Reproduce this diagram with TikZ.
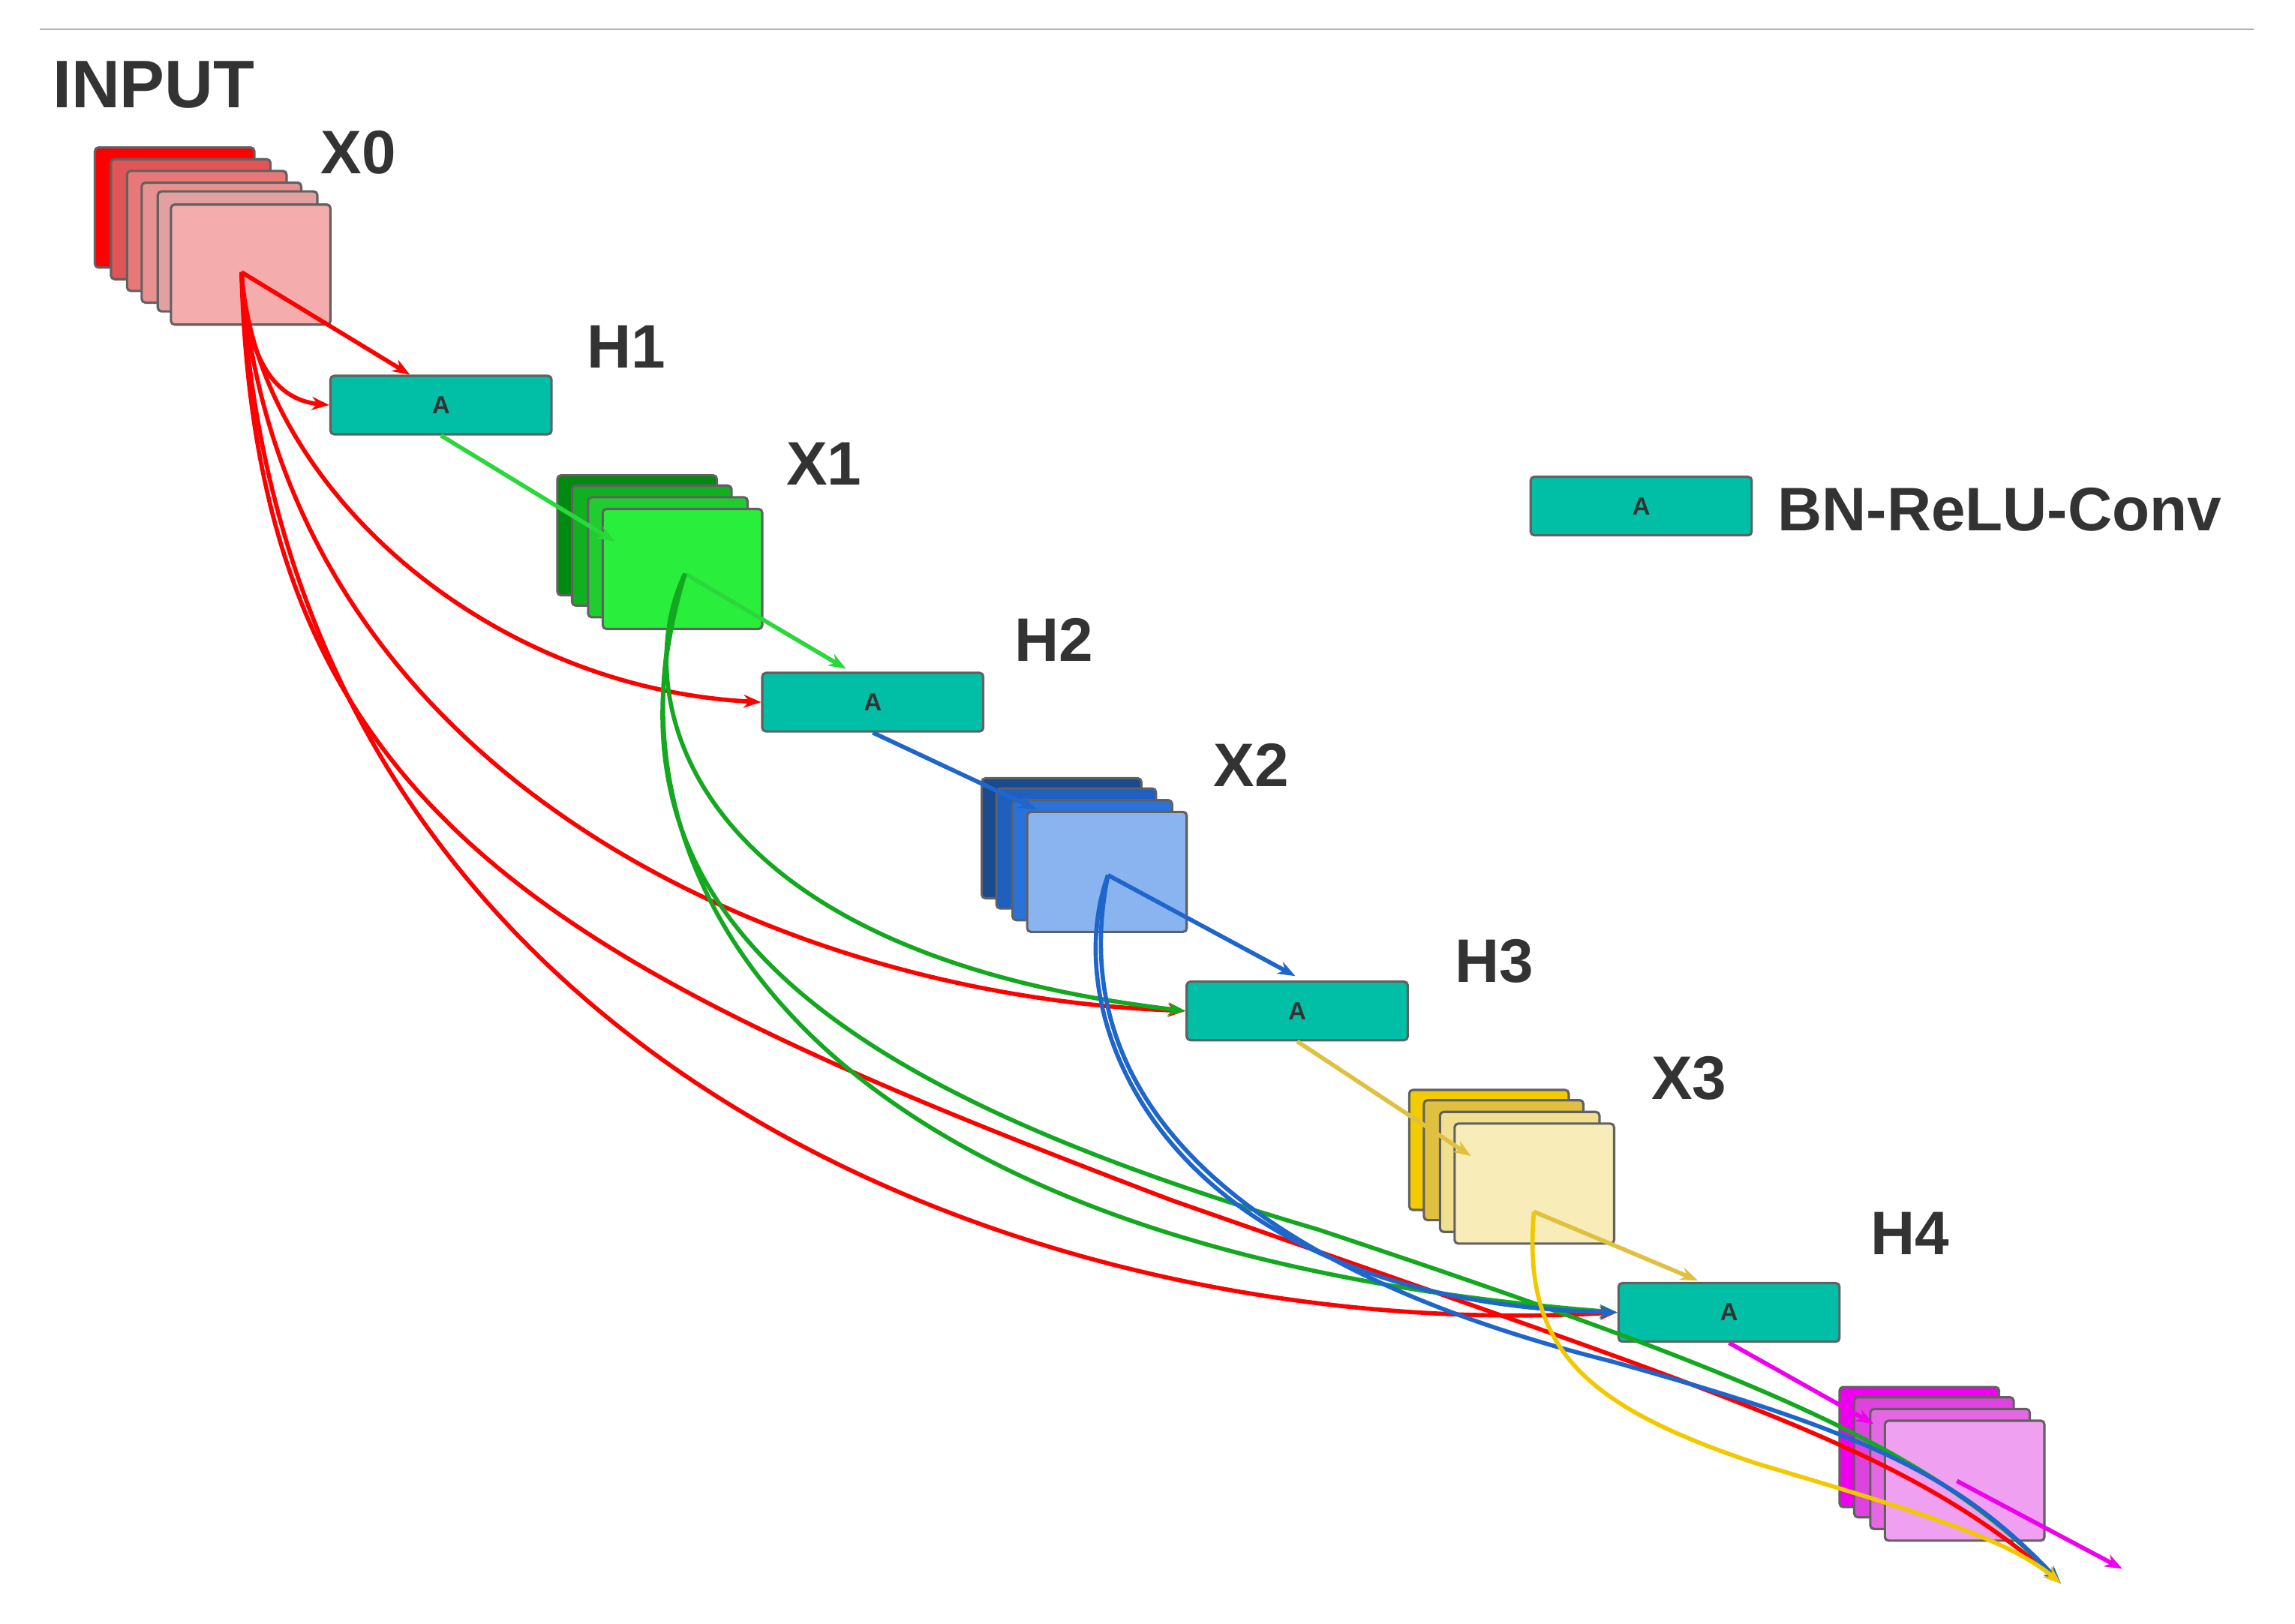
\documentclass[tikz,border=0pt]{standalone}
\usepackage{fontspec}
\setmainfont{Liberation Sans}
\usetikzlibrary{arrows.meta}
\begin{document}
\begin{tikzpicture}[x=1pt,y=-1pt,
 lay/.style={draw=black!62,line width=1.6pt,rounded corners=2.5pt,minimum width=109pt,minimum height=82pt,anchor=north west,inner sep=0pt},
 abox/.style={draw=black!62,line width=1.6pt,rounded corners=2.5pt,fill=teal0,minimum width=151pt,minimum height=40pt,anchor=north west,font=\bfseries\fontsize{17}{17}\selectfont,text=black!80},
 lbl/.style={font=\bfseries\fontsize{42}{42}\selectfont,text=black!80},
 con/.style={line width=2.9pt,-{Stealth[length=12pt,width=9pt]}}]
\definecolor{teal0}{HTML}{00BFA6}
\useasboundingbox (0,0) rectangle (1568,1109.7);
\draw[black!30,line width=0.8pt] (27,20) -- (1540,20);
\node[lbl,font=\bfseries\fontsize{46}{46}\selectfont] at (105,58) {INPUT};
% X0 stack
\foreach \x/\y/\c in {64/100/FF0000,75/108/E05555,86/116/E87878,96/124/E99090,107/130/E3A0A0}
 {\definecolor{tmp}{HTML}{\c}\node[lay,fill=tmp] at (\x,\y) {};}
\definecolor{x0c}{HTML}{F4ACAC}
\node[lay,fill=x0c] (X0) at (116,139) {};
\node[lbl] at (245,104) {X0};
% X1
\foreach \x/\y/\c in {380/324/008A10,390/331/10B020,401/339/20CC30}
 {\definecolor{tmp}{HTML}{\c}\node[lay,fill=tmp] at (\x,\y) {};}
\definecolor{x1c}{HTML}{2AEE3C}
\node[lay,fill=x1c] (X1) at (411,347) {};
\node[lbl] at (563,317) {X1};
% X2
\foreach \x/\y/\c in {670/531/1A4A8F,680/538/1F5FC0,691/546/2A72D8}
 {\definecolor{tmp}{HTML}{\c}\node[lay,fill=tmp] at (\x,\y) {};}
\definecolor{x2c}{HTML}{8AB4F0}
\node[lay,fill=x2c] (X2) at (701,554) {};
\node[lbl] at (855,523) {X2};
% X3
\foreach \x/\y/\c in {962/744/F3CC00,972/751/E0C040,983/759/F0E090}
 {\definecolor{tmp}{HTML}{\c}\node[lay,fill=tmp] at (\x,\y) {};}
\definecolor{x3c}{HTML}{F8EDB8}
\node[lay,fill=x3c] (X3) at (993,767) {};
\node[lbl] at (1154,737) {X3};
% X4
\foreach \x/\y/\c in {1256/947/EE00EE,1266/954/DD44DD,1277/962/E468E4}
 {\definecolor{tmp}{HTML}{\c}\node[lay,fill=tmp] at (\x,\y) {};}
\definecolor{x4c}{HTML}{F0A0F0}
\node[lay,fill=x4c] (X4) at (1287,970) {};
% A boxes
\node[abox] (H1) at (225,256) {A};
\node[abox] (H2) at (520,459) {A};
\node[abox] (H3) at (810,670) {A};
\node[abox] (H4) at (1105,876) {A};
\node[abox] (L) at (1045,325) {A};
\node[lbl] at (428,237) {H1};
\node[lbl] at (720,437) {H2};
\node[lbl] at (1021,657) {H3};
\node[lbl] at (1305,843) {H4};
\node[lbl,anchor=west,font=\bfseries\fontsize{42}{42}\selectfont] at (1211,348) {BN-ReLU-Conv};
% points
\coordinate (s0) at (165,186);
\coordinate (s1) at (468,392);
\coordinate (s2) at (757,598);
\coordinate (s3) at (1048,828);
\coordinate (s4) at (1337,1012);
\coordinate (e1) at (420,370);
\coordinate (e2) at (708,553);
\coordinate (e3) at (1005,790);
\coordinate (e4) at (1280,973);
\coordinate (out) at (1408,1082);
\coordinate (out4) at (1450,1072);
\definecolor{rd}{HTML}{FF0000}
\definecolor{gr}{HTML}{14A820}
\definecolor{lg}{HTML}{2AD83C}
\definecolor{bl}{HTML}{1E66CC}
\definecolor{ye}{HTML}{F2C800}
\definecolor{dy}{HTML}{E0C040}
\definecolor{mg}{HTML}{EE00EE}
% red
\draw[con,rd] (s0) -- (H1.north west -| 280,0);
\draw[con,rd] (s0) .. controls (168,240) and (185,273) .. (H1.west);
\draw[con,rd] (s0) .. controls (175,330) and (330,470) .. (H2.west);
\draw[con,rd] (s0) .. controls (190,520) and (520,680) .. (H3.west);
\draw[con,rd] (s0) .. controls (190,720) and (700,920) .. (H4.west);
\draw[con,rd] (s0) .. controls (175,560) and (380,660) .. (800,820) .. controls (1200,960) and (1300,990) .. (out);
% green
\draw[con,lg] (H1.south) -- (e1);
\draw[con,lg] (s1) -- (578,457);
\draw[con,gr] (s1) .. controls (430,470) and (460,650) .. (H3.west);
\draw[con,gr] (s1) .. controls (410,560) and (500,850) .. (H4.west);
\draw[con,gr] (s1) .. controls (400,620) and (560,740) .. (900,840) .. controls (1200,940) and (1320,990) .. (out);
% blue
\draw[con,bl] (H2.south) -- (e2);
\draw[con,bl] (s2) -- (885,667);
\draw[con,bl] (s2) .. controls (720,700) and (800,890) .. (H4.west);
\draw[con,bl] (s2) .. controls (720,780) and (900,880) .. (1100,930) .. controls (1280,980) and (1340,1010) .. (out);
% yellow
\draw[con,dy] (H3.south) -- (e3);
\draw[con,dy] (s3) -- (1160,875);
\draw[con,ye] (s3) .. controls (1040,920) and (1080,960) .. (1200,1000) .. controls (1300,1030) and (1370,1050) .. (out);
% magenta
\draw[con,mg] (H4.south) -- (e4);
\draw[con,mg] (s4) -- (out4);
\end{tikzpicture}
\end{document}
